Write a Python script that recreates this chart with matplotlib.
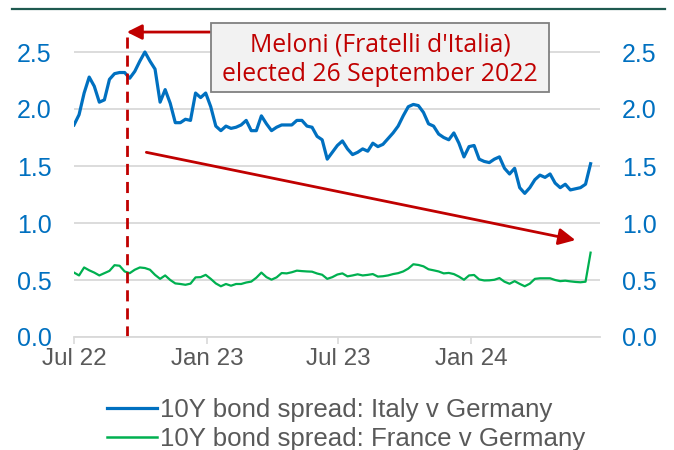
import numpy as np
import pandas as pd
import matplotlib
matplotlib.use("Agg")
import matplotlib.pyplot as plt
from matplotlib.patches import Rectangle
from matplotlib.lines import Line2D

# weekly observations, starting 1 Jul 2022
START = "2022-07-01"
N_WEEKS = 103

italy_spread = [
    1.86, 1.95, 2.14, 2.28, 2.20, 2.06, 2.08, 2.26, 2.31, 2.32,
    2.32, 2.27, 2.33, 2.42, 2.50, 2.42, 2.35, 2.06, 2.17, 2.05,
    1.88, 1.88, 1.91, 1.90, 2.14, 2.10, 2.14, 2.02, 1.85, 1.81,
    1.85, 1.83, 1.84, 1.86, 1.90, 1.81, 1.81, 1.94, 1.87, 1.81,
    1.84, 1.86, 1.86, 1.86, 1.90, 1.90, 1.85, 1.84, 1.76, 1.73,
    1.56, 1.62, 1.68, 1.72, 1.65, 1.60, 1.62, 1.65, 1.63, 1.70,
    1.67, 1.69, 1.74, 1.79, 1.85, 1.94, 2.02, 2.04, 2.03, 1.97,
    1.87, 1.85, 1.78, 1.75, 1.73, 1.79, 1.70, 1.58, 1.67, 1.68,
    1.56, 1.54, 1.53, 1.56, 1.58, 1.48, 1.43, 1.48, 1.31, 1.26,
    1.31, 1.38, 1.42, 1.40, 1.43, 1.35, 1.31, 1.34, 1.29, 1.30,
    1.31, 1.34, 1.52,
]

france_spread = [
    0.565, 0.54, 0.61, 0.585, 0.565, 0.54, 0.56, 0.58, 0.63, 0.625,
    0.575, 0.56, 0.59, 0.61, 0.605, 0.59, 0.545, 0.51, 0.54, 0.50,
    0.47, 0.465, 0.458, 0.468, 0.523, 0.525, 0.545, 0.51, 0.47, 0.445,
    0.465, 0.45, 0.465, 0.465, 0.478, 0.486, 0.52, 0.565, 0.525, 0.503,
    0.523, 0.561, 0.558, 0.568, 0.582, 0.578, 0.575, 0.573, 0.557, 0.546,
    0.51, 0.525, 0.548, 0.558, 0.532, 0.54, 0.55, 0.54, 0.545, 0.552,
    0.53, 0.533, 0.54, 0.552, 0.56, 0.575, 0.60, 0.638, 0.632, 0.62,
    0.594, 0.585, 0.575, 0.558, 0.562, 0.552, 0.53, 0.502, 0.54, 0.544,
    0.505, 0.496, 0.497, 0.502, 0.517, 0.485, 0.467, 0.49, 0.466, 0.445,
    0.468, 0.51, 0.515, 0.515, 0.515, 0.50, 0.49, 0.494, 0.488, 0.483,
    0.48, 0.485, 0.74,
]

y_ticks = [0.0, 0.5, 1.0, 1.5, 2.0, 2.5]
x_ticks = ["2022-07-01", "2023-01-01", "2023-07-01", "2024-01-01"]
x_tick_labels = ["Jul 22", "Jan 23", "Jul 23", "Jan 24"]

election_marker = "2022-09-12"
trend_start = ("2022-10-09", 1.62)
trend_end = ("2024-05-24", 0.85)
note_text = "Meloni (Fratelli d'Italia)\nelected 26 September 2022"
series_labels = ["10Y bond spread: Italy v Germany", "10Y bond spread: France v Germany"]

BLUE = "#0070C0"
GREEN = "#00B050"
RED = "#C00000"
GRID = "#D9D9D9"
GREY_TEXT = "#595959"

dates = pd.date_range(START, periods=N_WEEKS, freq="7D")
df = pd.DataFrame({"italy": italy_spread, "france": france_spread}, index=dates)

plt.rcParams["font.family"] = ["Liberation Sans", "DejaVu Sans"]

fig = plt.figure(figsize=(6.74, 4.5), dpi=100)
ax = fig.add_axes([74 / 674, 1 - 337 / 450, 526 / 674, 313.5 / 450])

ax.plot(df.index, df["italy"], color=BLUE, lw=2.3, solid_joinstyle="round")
ax.plot(df.index, df["france"], color=GREEN, lw=1.6, solid_joinstyle="round")

x0 = pd.Timestamp(START)
ax.set_xlim(x0, x0 + pd.Timedelta(days=727))
ax.set_ylim(0, 2.75)

ax.set_yticks(y_ticks)
ax.set_yticklabels([f"{v:.1f}" for v in y_ticks])
ax.yaxis.grid(True, color=GRID, lw=1.3)
ax.set_axisbelow(True)
ax.tick_params(axis="y", length=0, labelsize=18, labelcolor=BLUE, pad=16,
               labelright=True)

ax.set_xticks(pd.to_datetime(x_ticks))
ax.set_xticklabels(x_tick_labels)
ax.tick_params(axis="x", length=5, width=1.2, color=GRID, labelsize=17.5,
               labelcolor=GREY_TEXT, pad=3)

for side in ["top", "left", "right"]:
    ax.spines[side].set_visible(False)
ax.spines["bottom"].set_color(GRID)
ax.spines["bottom"].set_linewidth(1.3)

# election date marker
ax.axvline(pd.Timestamp(election_marker), ymin=0, ymax=2.675 / 2.75,
           color=RED, lw=2, ls=(0, (4, 2.5)))

# arrow from note box to marker
ax.annotate("", xy=(pd.Timestamp(election_marker), 2.675),
            xytext=(pd.Timestamp("2023-01-05"), 2.675),
            arrowprops=dict(arrowstyle="-|>,head_length=0.9,head_width=0.45",
                            color=RED, lw=2, shrinkA=0, shrinkB=0))

# downward trend arrow
ax.annotate("", xy=(pd.Timestamp(trend_end[0]), trend_end[1]),
            xytext=(pd.Timestamp(trend_start[0]), trend_start[1]),
            arrowprops=dict(arrowstyle="-|>,head_length=1.0,head_width=0.5",
                            color=RED, lw=2, shrinkA=0, shrinkB=0))

# note box
box = Rectangle((211 / 674, 1 - 92 / 450), 338 / 674, 69 / 450,
                transform=fig.transFigure, facecolor="#F2F2F2",
                edgecolor="#808080", lw=1.3, zorder=5)
fig.patches.append(box)
fig.text(380 / 674, 1 - 60 / 450, note_text, ha="center", va="center",
         color=RED, fontsize=17.8, family=["Open Sans", "DejaVu Sans"],
         linespacing=1.25, zorder=6)

# decorative rule at top
fig.add_artist(Line2D([12 / 674, 665 / 674], [1 - 9 / 450, 1 - 9 / 450],
                      transform=fig.transFigure, color="#1F5A50", lw=1.6))

handles = [Line2D([], [], color=BLUE, lw=2.3), Line2D([], [], color=GREEN, lw=1.8)]
fig.legend(handles, series_labels, loc="upper left",
           bbox_to_anchor=(107 / 674, 1 - 398 / 450), frameon=False,
           fontsize=18.6, labelcolor=GREY_TEXT, handlelength=1.95,
           handletextpad=0.1, labelspacing=0.18, borderpad=0,
           borderaxespad=0)

fig.savefig("out.png", dpi=100)
